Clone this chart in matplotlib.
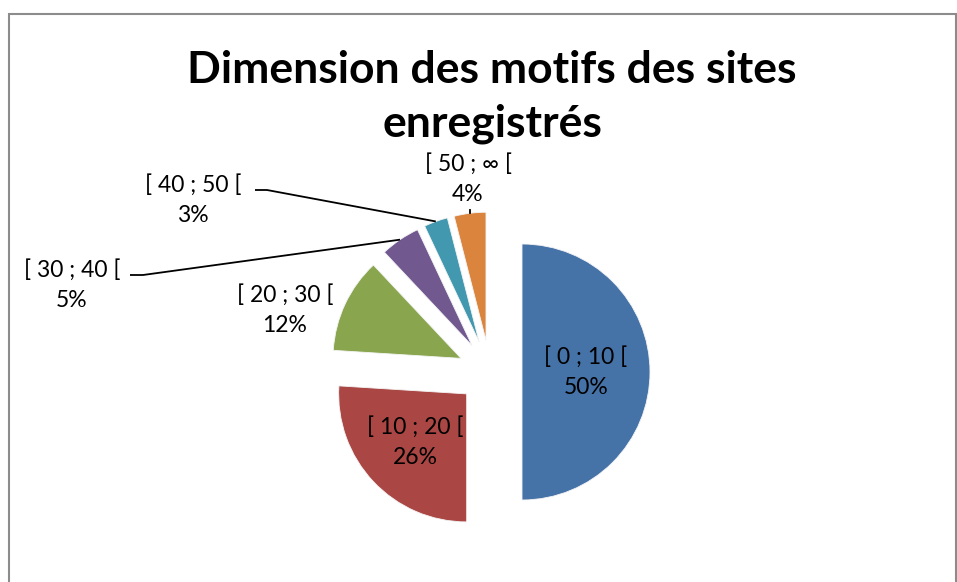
import numpy as np
import matplotlib.pyplot as plt
from matplotlib.patches import Rectangle

plt.rcParams['font.family'] = ['Lato', 'DejaVu Sans']

# classes de dimension des motifs et parts (%)
classes = ['[ 0 ; 10 [', '[ 10 ; 20 [', '[ 20 ; 30 [', '[ 30 ; 40 [', '[ 40 ; 50 [', '[ 50 ; ∞ [']
parts = [50, 26, 12, 5, 3, 4]
couleurs = ['#4572A7', '#AA4643', '#89A54E', '#71588F', '#4198AF', '#DB843D']

W, H = 957, 582
R = 128.0          # rayon du camembert en pixels
cx, cy = 490, 372  # centre du camembert en pixels (origine en haut à gauche)


def px(x, y):
    # pixels -> coordonnées de l'axe (1 unité = 1 rayon)
    return (x - cx) / R, (cy - y) / R


fig = plt.figure(figsize=(W / 100, H / 100), dpi=100)
ax = fig.add_axes([0, 0, 1, 1])

wedges, _ = ax.pie(parts, colors=couleurs, startangle=90, counterclock=False,
                   explode=[0.25] * len(parts), radius=1,
                   wedgeprops=dict(linewidth=0.6, edgecolor='#f4f4f4'))

ax.set_xlim(-cx / R, (W - cx) / R)
ax.set_ylim(-(H - cy) / R, cy / R)
ax.set_aspect('equal')
ax.axis('off')

# cadre du graphique
fig.patches.append(Rectangle((9.0 / W, -0.1), (W - 10) / W, 1.1 - 13.5 / H,
                             transform=fig.transFigure, fill=False,
                             edgecolor='#8c8c8c', linewidth=1.5))

fig.text(492 / W, 1 - 97 / H, 'Dimension des motifs des sites\nenregistrés',
         ha='center', va='center', fontsize=32, fontweight='bold',
         linespacing=1.42)


def milieu_arc(w, f=1.0):
    a = np.deg2rad((w.theta1 + w.theta2) / 2)
    return w.center[0] + f * w.r * np.cos(a), w.center[1] + f * w.r * np.sin(a)


# étiquettes : (position du texte en pixels) ou distance relative dans la part
pos_labels = {0: ('in', 0.5), 1: ('in', 0.55),
              2: ('out', (285, 310)), 3: ('out', (72, 285)),
              4: ('out', (193, 200)), 5: ('out', (468, 179))}

for i, w in enumerate(wedges):
    texte = f'{classes[i]}\n{parts[i]}%'
    mode, p = pos_labels[i]
    if mode == 'in':
        x, y = milieu_arc(w, p)
    else:
        x, y = px(*p)
    ax.text(x, y, texte, ha='center', va='center', fontsize=16.5,
            linespacing=1.55, color='black')

# lignes de rappel
ex, ey = milieu_arc(wedges[4])
x0, y0 = px(255, 190)
x1, _ = px(267, 190)
ax.plot([x0, x1, ex], [y0, y0, ey], color='black', lw=1.3, solid_capstyle='butt')

ex, ey = milieu_arc(wedges[3])
x0, y0 = px(130, 275)
x1, _ = px(143, 275)
ax.plot([x0, x1, ex], [y0, y0, ey], color='black', lw=1.3, solid_capstyle='butt')

ex, ey = milieu_arc(wedges[5])
ax.plot([ex, ex], [ey, ey + 3 / R], color='black', lw=1.3)

fig.savefig('out.png', dpi=100)
